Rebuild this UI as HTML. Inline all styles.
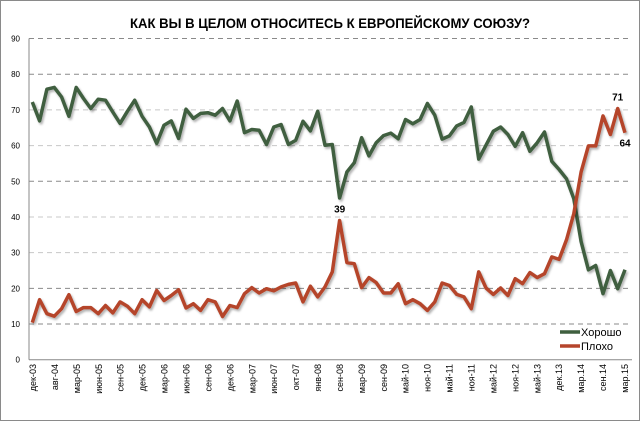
<!DOCTYPE html>
<html><head><meta charset="utf-8">
<style>body{margin:0;background:#fff}svg{display:block;font-family:"Liberation Sans",sans-serif}</style>
</head><body>
<svg id="chart" width="640" height="421" viewBox="0 0 640 421" xmlns="http://www.w3.org/2000/svg">
<defs><filter id="sh" x="-5%" y="-5%" width="110%" height="110%"><feDropShadow dx="1.5" dy="2" stdDeviation="1" flood-color="#000" flood-opacity="0.3"/></filter></defs>
<rect x="0.5" y="0.5" width="639" height="420" fill="#fff" stroke="#8a8a8a"/>
<text x="330" y="28" text-anchor="middle" font-size="14" font-weight="bold" textLength="400" lengthAdjust="spacingAndGlyphs">КАК ВЫ В ЦЕЛОМ ОТНОСИТЕСЬ К ЕВРОПЕЙСКОМУ СОЮЗУ?</text>
<g id="grid"></g><g id="axes"></g><g id="series"></g><g id="labels"></g>
<g>
<line x1="560" y1="332" x2="580" y2="332" stroke="#3f5f3f" stroke-width="3.5"/>
<text x="581" y="336" font-size="11">Хорошо</text>
<line x1="560" y1="346" x2="580" y2="346" stroke="#b5452c" stroke-width="3.5"/>
<text x="581" y="350" font-size="11">Плохо</text>
</g>
</svg>
<script>
const good=[72.2,66.9,75.8,76.3,73.6,68.2,76.3,73.2,70.4,73,72.7,69.4,66.2,69.6,72.7,68.2,65.2,60.6,65.7,66.9,62,70.2,67.6,69,69.2,68.5,70.4,66.9,72.5,63.6,64.5,64.3,60.3,65.2,65.9,60.3,61.5,66.8,64.1,69.6,60.1,60.3,45.3,52.6,55.2,62.2,57.1,60.8,62.8,63.5,61.9,67.3,66.1,67.3,71.8,68.5,61.8,62.7,65.5,66.5,70.8,56.2,60.1,64,65.2,63.1,59.8,63.6,58.4,60.8,63.8,55.6,53.3,50.7,45.1,33.1,25.2,26.4,18.5,25,19.9,25.2];
const bad=[10.4,16.8,12.9,12.2,14.3,18.2,13.5,14.6,14.6,12.9,15.2,13.1,16.2,15,12.9,16.8,14.8,19.4,16.6,18,19.6,14.5,15.7,13.8,16.8,16.2,12.1,15.2,14.6,18.5,20.2,18.7,19.9,19.3,20.4,21.1,21.5,16.2,20.6,17.6,20.4,24.6,39,27.2,26.9,20.2,23,21.6,18.7,18.7,21.3,15.7,16.8,15.7,13.8,16.2,21.5,20.8,18.3,17.6,14.3,24.6,20.1,18.3,20.1,18,22.7,21.3,24.4,23,24.1,28.8,28.1,33.6,40.9,52.6,59.9,59.9,68.3,63.1,70.4,63.6];
const xLabels=["дек-03","авг-04","мар-05","июн-05","сен-05","дек-05","мар-06","июн-06","сен-06","дек-06","мар-07","июн-07","окт-07","янв-08","сен-08","мар-09","сен-09","май-10","ноя-10","май-11","ноя-11","май-12","ноя-12","май-13","дек.13","мар.14","сен.14","мар.15"];
const yTicks=[0,10,20,30,40,50,60,70,80,90];
const annotations=[{s:"bad",i:42,t:"39",dy:-8},{s:"bad",i:80,t:"71",dy:-8},{s:"bad",i:81,t:"64",dy:14}];
const NS="http://www.w3.org/2000/svg";
const X0=32.3,X1=625,Y0=359.7,Y90=38.5;
const n=good.length;
const xs=i=>X0+(X1-X0)*i/(n-1);
const ys=v=>Y0-(Y0-Y90)*v/90;
function mk(tag,at,parent){const e=document.createElementNS(NS,tag);for(const k in at)e.setAttribute(k,at[k]);parent.appendChild(e);return e;}
const grid=document.getElementById('grid'),axes=document.getElementById('axes'),series=document.getElementById('series'),labels=document.getElementById('labels');
yTicks.forEach(v=>{
 if(v>0){const l=mk('line',{x1:29,x2:632,y1:ys(v),y2:ys(v),stroke:([20,50,80,90,10].includes(v)?'#8a8a8a':'#c8c8c8'),'stroke-dasharray':'5,4','stroke-width':1},grid);
 
 }
 const t=mk('text',{x:20,y:ys(v)+3,'text-anchor':'end','font-size':8},axes);
 
 
 t.textContent=v;
});
const ya=mk('line',{x1:29,x2:29,y1:ys(90),y2:Y0,stroke:'#888'},axes);


const xa=mk('line',{x1:29,x2:632,y1:Y0,y2:Y0,stroke:'#888'},axes);


xLabels.forEach((s,k)=>{
 const x=33+(625-33)*k/(xLabels.length-1)+3;
 const t=mk('text',{x:x,y:364,'text-anchor':'end','font-size':9,transform:`rotate(-90 ${x} 364)`},axes);
 
 
 t.textContent=s;
});
function line(arr,color,name){
 const d=arr.map((v,i)=>(i?'L':'M')+xs(i).toFixed(1)+' '+ys(v).toFixed(1)).join(' ');
 const p=mk('path',{d:d,fill:'none',stroke:color,'stroke-width':3.5,'stroke-linejoin':'round',filter:'url(#sh)'},series);
 
 
}
line(good,'#3f5f3f','series-good');
line(bad,'#b5452c','series-bad');
annotations.forEach(a=>{
 const arr=a.s==='bad'?bad:good;
 const t=mk('text',{x:xs(a.i),y:ys(arr[a.i])+a.dy,'text-anchor':'middle','font-size':10,'font-weight':'bold'},labels);
 
 
 t.textContent=a.t;
});
</script>
</body></html>
